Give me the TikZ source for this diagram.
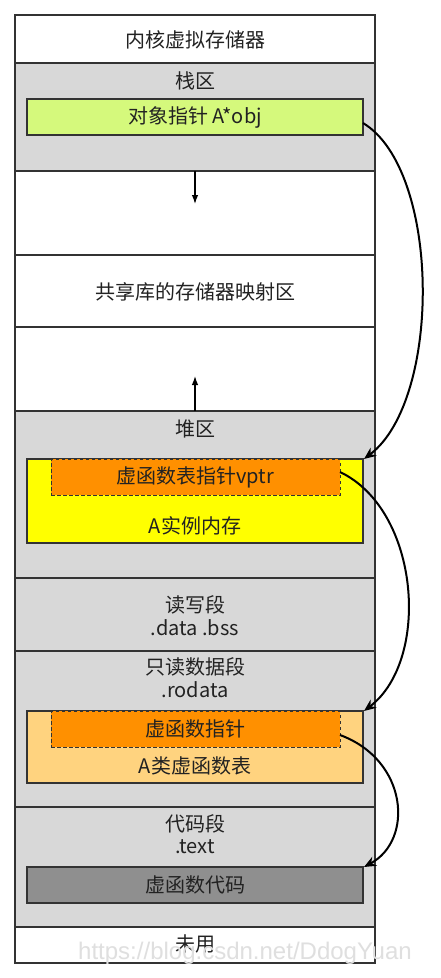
\documentclass[tikz,border=0pt]{standalone}
\usepackage{fontspec}
\setmainfont{Noto Sans CJK SC}
\newfontfamily\wmfont{Liberation Sans}
\usetikzlibrary{arrows.meta}
\definecolor{regiongray}{HTML}{D8D8D8}
\definecolor{edgegray}{HTML}{333333}
\definecolor{ptrgreen}{HTML}{D5F97C}
\definecolor{heapyellow}{HTML}{FFFF00}
\definecolor{vorange}{HTML}{FF9000}
\definecolor{tblorange}{HTML}{FFD37F}
\definecolor{codegray}{HTML}{8F8F8F}
\definecolor{txt}{HTML}{222222}
\begin{document}
\begin{tikzpicture}[x=1pt,y=-1pt,
  region/.style={draw=edgegray,line width=1.3pt,anchor=north west,inner sep=0pt,outer sep=0pt,minimum width=360pt},
  inbox/.style={draw=edgegray,line width=1.1pt,anchor=north west,inner sep=0pt,outer sep=0pt,minimum width=336pt,minimum height=36pt},
  dashbox/.style={draw=edgegray,line width=1pt,dash pattern=on 3.5pt off 2.5pt,fill=vorange,anchor=north west,inner sep=0pt,outer sep=0pt,minimum width=289pt,minimum height=36pt},
  lbl/.style={text=txt,font=\fontsize{20}{22}\selectfont,inner sep=0pt},
  curve/.style={line width=2pt,draw=black,-{Stealth[length=12pt,width=10pt]}},
  small/.style={line width=1.3pt,draw=black,-{Latex[length=9pt,width=6.5pt]}}
]
\useasboundingbox[fill=white] (0,0) rectangle (440,978);
% regions
\node[region,fill=white,minimum height=48pt] (kernel) at (15,15) {};
\node[region,fill=regiongray,minimum height=108pt] (stack) at (15,63) {};
\node[region,fill=white,minimum height=84pt] (gap1) at (15,171) {};
\node[region,fill=white,minimum height=72pt] (shared) at (15,255) {};
\node[region,fill=white,minimum height=84pt] (gap2) at (15,327) {};
\node[region,fill=regiongray,minimum height=167pt] (heap) at (15,411) {};
\node[region,fill=regiongray,minimum height=73pt] (rw) at (15,578) {};
\node[region,fill=regiongray,minimum height=156pt] (ro) at (15,651) {};
\node[region,fill=regiongray,minimum height=120pt] (code) at (15,807) {};
\node[region,fill=white,minimum height=36pt] (unused) at (15,927) {};
% inner boxes
\node[inbox,fill=ptrgreen] (objptr) at (27,99) {};
\node[inbox,fill=heapyellow,minimum height=84pt] (heapA) at (27,459) {};
\node[dashbox] (vptr) at (51,459) {};
\node[inbox,fill=tblorange,minimum height=72pt] (vtbl) at (27,711) {};
\node[dashbox] (vfptr) at (51,711) {};
\node[inbox,fill=codegray] (vcode) at (27,867) {};
% labels
\node[lbl] (tkernel) at (195,40) {内核虚拟存储器};
\node[lbl] (tstack) at (195,81) {栈区};
\node[lbl] (tobj) at (195,117) {对象指针 A*obj};
\node[lbl] (tshared) at (195,292) {共享库的存储器映射区};
\node[lbl] (theap) at (195,429) {堆区};
\node[lbl] (tvptr) at (195,477) {虚函数表指针vptr};
\node[lbl] (tinst) at (195,526) {A实例内存};
\node[lbl] (trw1) at (195,605) {读写段};
\node[lbl] (trw2) at (195,628) {.data .bss};
\node[lbl] (tro1) at (195,667) {只读数据段};
\node[lbl] (tro2) at (195,690) {.rodata};
\node[lbl] (tvf) at (195,729) {虚函数指针};
\node[lbl] (ttbl) at (195,766) {A类虚函数表};
\node[lbl] (tcode1) at (195,824) {代码段};
\node[lbl] (tcode2) at (195,847) {.text};
\node[lbl] (tvcode) at (195,885) {虚函数代码};
\node[lbl] (tunused) at (195,944) {未用};
% growth arrows
\coordinate (down) at (195,204);
\coordinate (up) at (195,376);
\draw[small] (stack.south) -- (down);
\draw[small] (heap.north) -- (up);
% pointer curves
\draw[curve] ([yshift=-6pt]objptr.east) .. controls (441,170) and (442,400) .. ([xshift=1pt]heapA.north east);
\draw[curve] ([yshift=5pt]vptr.east) .. controls (420,510) and (431,660) .. ([xshift=1pt]vtbl.north east);
\draw[curve] ([yshift=-6pt]vfptr.east) .. controls (408,760) and (414,840) .. ([xshift=1pt]vcode.north east);
% watermark
\node[text=gray!25,font=\wmfont\fontsize{24}{26}\selectfont,inner sep=0pt] (wm) at (245,953) {https://blog.csdn.net/DdogYuan};
\end{tikzpicture}
\end{document}
